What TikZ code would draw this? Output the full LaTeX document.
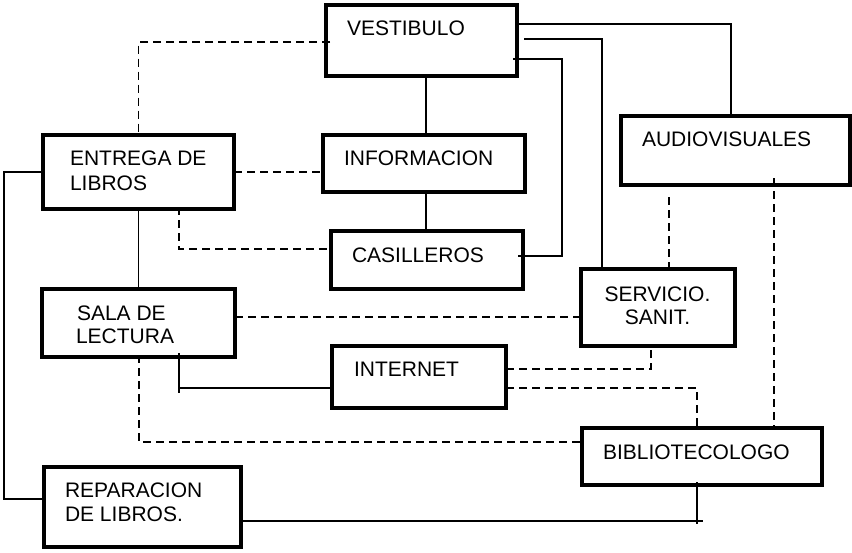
\documentclass[tikz,border=0pt]{standalone}
\usepackage{fontspec}
\setmainfont{Liberation Sans}
\usetikzlibrary{calc,fit}
\begin{document}
\begin{tikzpicture}[x=1pt,y=-1pt,
  box/.style={draw, line width=3.6pt, inner sep=0pt, outer sep=0pt},
  lbl/.style={inner sep=0pt, outer sep=0pt, font=\fontsize{21}{25}\selectfont, anchor=base west},
  clbl/.style={lbl, anchor=base},
  conn/.style={line width=1.6pt},
  dconn/.style={line width=1.8pt, dash pattern=on 8pt off 5pt}]
\useasboundingbox (0,0) rectangle (852,552);
% boxes
\node[box, fit={(326,5) (517,76)}] (vest) {};
\node[box, fit={(43,135) (234,209)}] (entrega) {};
\node[box, fit={(323,135) (525,192)}] (info) {};
\node[box, fit={(331,231) (523,289)}] (cas) {};
\node[box, fit={(621,116) (850,185)}] (audio) {};
\node[box, fit={(581,269) (735,346)}] (serv) {};
\node[box, fit={(42,289) (235,357)}] (sala) {};
\node[box, fit={(332,346) (506,408)}] (inet) {};
\node[box, fit={(582,428) (822,485)}] (bib) {};
\node[box, fit={(44,467) (241,547)}] (rep) {};
% labels
\node[lbl] (vest-t) at (347,35.5) {VESTIBULO};
\node[lbl] (entrega-t1) at (70,165.7) {ENTREGA DE};
\node[lbl] (entrega-t2) at (70,190.7) {LIBROS};
\node[lbl] (info-t) at (344,165.7) {INFORMACION};
\node[lbl] (cas-t) at (352,262.3) {CASILLEROS};
\node[lbl] (audio-t) at (642,146.7) {AUDIOVISUALES};
\node[clbl] (serv-t1) at (657.5,301) {SERVICIO.};
\node[clbl] (serv-t2) at (657.5,324) {SANIT.};
\node[lbl] (sala-t1) at (77,320.7) {SALA DE};
\node[lbl] (sala-t2) at (76,343.3) {LECTURA};
\node[lbl] (inet-t) at (354,376.7) {INTERNET};
\node[lbl] (bib-t) at (603,459.3) {BIBLIOTECOLOGO};
\node[lbl] (rep-t1) at (65,497.3) {REPARACION};
\node[lbl] (rep-t2) at (65,521.7) {DE LIBROS.};
% solid connectors
\draw[conn] ($(vest.north east)+(0,19)$) -| ($(audio.north west)+(110,0)$);
\draw[conn] ($(vest.north east)+(7,34)$) -| ($(serv.north west)+(21,0)$);
\draw[conn] ($(vest.north east)+(-4,54)$) -| ($(cas.north east)+(39,25)$) -- ($(cas.north east)+(-5,25)$);
\draw[conn] ($(vest.south)+(4.5,0)$) -- ($(info.north)+(2,0)$);
\draw[conn] ($(info.south)+(2,0)$) -- ($(cas.north)+(-1,0)$);
\draw[conn] (entrega.south) -- (sala.north);
\draw[conn] (entrega.west) -- ++(-39,0) |- ($(rep.north west)+(0,32)$);
\draw[conn] ($(sala.south west)+(137,-4)$) -- ++(0,40);
\draw[conn] ($(sala.south west)+(137,31)$) -- ($(inet.north west)+(0,42)$);
\draw[conn] ($(rep.north east)+(0,54)$) -- ($(bib.south west)+(121,36)$);
\draw[conn] ($(bib.south west)+(115,-3)$) -- ++(0,42);
% dashed connectors
\draw[dconn] ($(vest.north west)+(4,37)$) -| (entrega.north);
\draw[dconn] ($(entrega.north east)+(0,37)$) -- ($(info.north west)+(0,37)$);
\draw[dconn] ($(entrega.south west)+(136,-2)$) |- ($(cas.north west)+(0,18)$);
\draw[dconn] ($(sala.north east)+(0,28)$) -- ($(serv.north west)+(0,48)$);
\draw[dconn] ($(sala.south)+(0.5,-2)$) |- ($(bib.north west)+(0,14)$);
\draw[dconn] ($(audio.south west)+(48,12)$) -- ($(serv.north west)+(88,0)$);
\draw[dconn] ($(audio.south west)+(153,-7)$) -- ($(bib.north west)+(192,0)$);
\draw[dconn] ($(inet.north east)+(0,23)$) -| ($(serv.south west)+(70,4)$);
\draw[dconn] ($(inet.north east)+(0,42)$) -| ($(bib.north west)+(115,0)$);
\end{tikzpicture}
\end{document}
